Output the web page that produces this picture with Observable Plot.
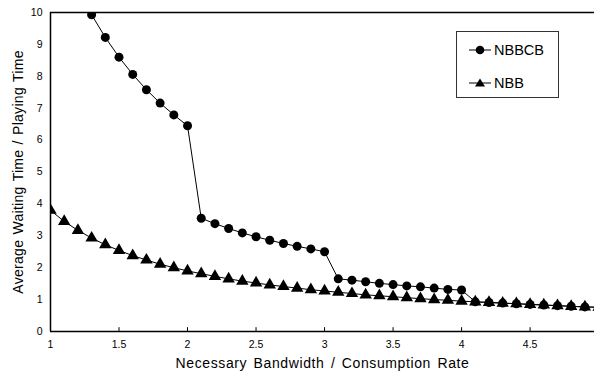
<!DOCTYPE html>
<html>
<head>
<meta charset="utf-8">
<script src="https://cdn.jsdelivr.net/npm/d3@7"></script>
<script src="https://cdn.jsdelivr.net/npm/@observablehq/plot@0.6"></script>
<style>
  html, body { margin: 0; padding: 0; background: #fff; }
  #wrap { position: relative; width: 594px; height: 372px; font-family: "Liberation Sans", Arial, sans-serif; }
  #legend { position: absolute; left: 456px; top: 31px; width: 101px; height: 65px; border: 1px solid #333; background: #fff; }
  .item { position: absolute; left: 12px; display: flex; align-items: center; font-size: 14.5px; color: #000; }
  .item svg { margin-right: 3px; }
</style>
</head>
<body>
<div id="wrap"><div id="legend"></div></div>
<script>
const xs = [1.0,1.1,1.2,1.3,1.4,1.5,1.6,1.7,1.8,1.9,2.0,2.1,2.2,2.3,2.4,2.5,2.6,2.7,2.8,2.9,3.0,3.1,3.2,3.3,3.4,3.5,3.6,3.7,3.8,3.9,4.0,4.1,4.2,4.3,4.4,4.5,4.6,4.7,4.8,4.9,5.0];
const nbbcb = [12.3,11.4,10.7,9.93,9.22,8.6,8.06,7.58,7.16,6.79,6.45,3.55,3.38,3.23,3.09,2.97,2.86,2.76,2.67,2.59,2.50,1.65,1.61,1.56,1.51,1.47,1.43,1.40,1.36,1.32,1.30,0.93,0.91,0.89,0.87,0.85,0.83,0.81,0.79,0.77,0.76];
const nbb = [3.80,3.45,3.17,2.93,2.72,2.54,2.38,2.24,2.11,2.00,1.90,1.81,1.73,1.65,1.58,1.52,1.46,1.41,1.36,1.31,1.27,1.23,1.19,1.15,1.12,1.09,1.06,1.03,1.00,0.98,0.95,0.93,0.91,0.89,0.87,0.85,0.83,0.81,0.79,0.77,0.76];
const seriesNames = ["NBBCB", "NBB"];
const xTicks = [1, 1.5, 2, 2.5, 3, 3.5, 4, 4.5];
const yTicks = [0,1,2,3,4,5,6,7,8,9,10];
const xLabel = "Necessary Bandwidth / Consumption Rate";
const yLabel = "Average Waiting Time / Playing Time";

const dA = xs.map((x, i) => ({x, y: nbbcb[i]}));
const dB = xs.map((x, i) => ({x, y: nbb[i]}));

const chart = Plot.plot({
  width: 594,
  height: 372,
  marginLeft: 50,
  marginRight: 0,
  marginTop: 12,
  marginBottom: 41,
  style: {fontFamily: "Liberation Sans, Arial, sans-serif", fontSize: "10px", color: "#000", background: "#fff"},
  x: {domain: [1, 4.97], ticks: xTicks},
  y: {domain: [0, 10], ticks: yTicks},
  marks: [
    Plot.ruleX(xTicks, {y1: 0, y2: 0.12, stroke: "#000", strokeWidth: 1}),
    Plot.line(dB, {x: "x", y: "y", stroke: "#000", strokeWidth: 1, clip: true}),
    Plot.dot(dB, {x: "x", y: "y", symbol: "triangle", r: 4.6, fill: "#000", stroke: "none", clip: true}),
    Plot.line(dA, {x: "x", y: "y", stroke: "#000", strokeWidth: 1, clip: true}),
    Plot.dot(dA, {x: "x", y: "y", symbol: "circle", r: 4.5, fill: "#000", stroke: "none", clip: true}),
    Plot.ruleY([10], {stroke: "#000", strokeWidth: 1.3}),
    Plot.ruleY([0], {stroke: "#000", strokeWidth: 1.5}),
    Plot.ruleX([1], {stroke: "#000", strokeWidth: 1.5}),
    Plot.axisX({ticks: xTicks, tickSize: 0, tickPadding: 9, tickFormat: d => String(d), fontSize: 10.5,
      label: xLabel, labelAnchor: "center", labelArrow: "none", labelOffset: 36}),
    Plot.axisY({ticks: yTicks, tickSize: 0, tickPadding: 8, fontSize: 10.5,
      label: yLabel, labelAnchor: "center", labelArrow: "none", labelOffset: 37})
  ]
});
chart.querySelectorAll("text").forEach(t => {
  if (t.textContent === xLabel) {
    t.style.fontSize = "14px";
    t.style.letterSpacing = "0.6px";
    t.style.wordSpacing = "2px";
  } else if (t.textContent === yLabel) {
    t.style.fontSize = "14px";
    t.style.letterSpacing = "0.3px";
    t.style.wordSpacing = "1px";
  }
});
document.getElementById("wrap").prepend(chart);

const legend = document.getElementById("legend");
const syms = {
  NBBCB: '<line x1="0" y1="6" x2="22" y2="6" stroke="#000" stroke-width="1"/><circle cx="11" cy="6" r="4.3" fill="#000"/>',
  NBB: '<line x1="0" y1="6" x2="22" y2="6" stroke="#000" stroke-width="1"/><path d="M11,1.5 L16,9.5 L6,9.5 Z" fill="#000"/>'
};
seriesNames.forEach((name, i) => {
  const el = document.createElement("div");
  el.className = "item";
  el.style.top = (i === 0 ? 10 : 43) + "px";
  el.innerHTML = '<svg width="22" height="12">' + syms[name] + '</svg><span>' + name + '</span>';
  legend.appendChild(el);
});
</script>
</body>
</html>
